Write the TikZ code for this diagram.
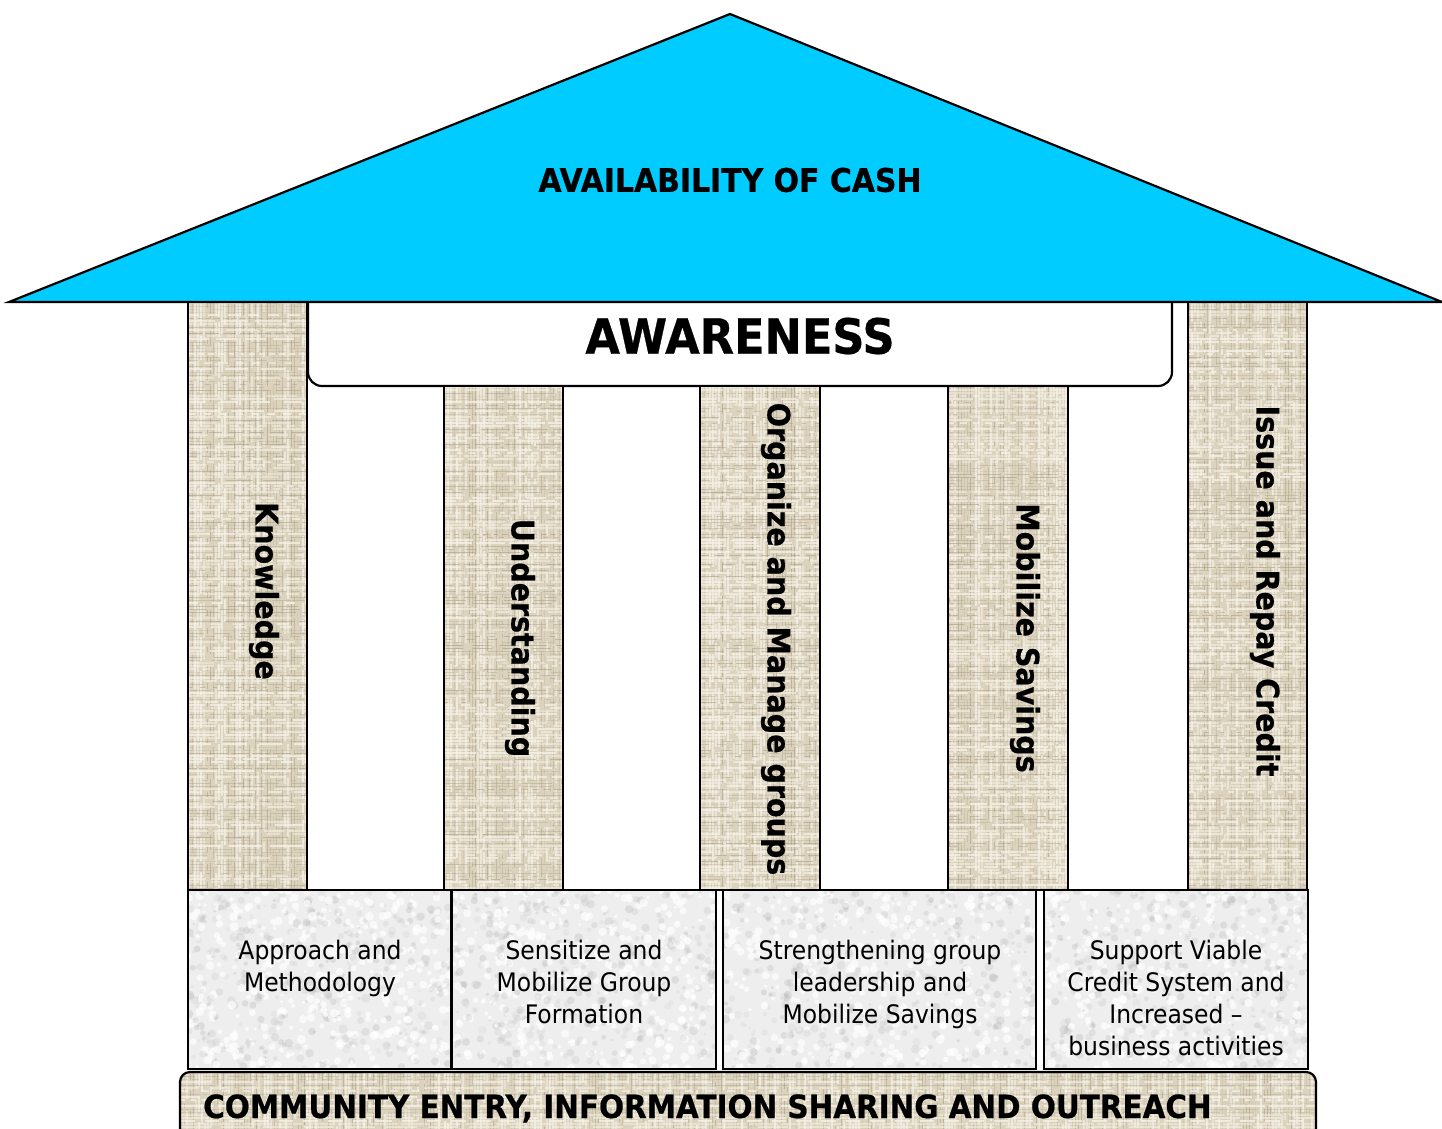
\documentclass[tikz,border=0pt]{standalone}
\usepackage{fontspec}
\setmainfont{DejaVu Sans}[FakeStretch=0.92, BoldFeatures={FakeBold=0.6}]
\usetikzlibrary{calc}

\definecolor{roofblue}{HTML}{00CCFF}
\definecolor{linenbase}{HTML}{DCD3BE}
\definecolor{linendark}{HTML}{9E927A}
\definecolor{linenlight}{HTML}{F6F2E8}
\definecolor{stonebase}{HTML}{EEEEEE}

\tikzset{
  outline/.style={draw=black, line width=2.2pt},
  titletext/.style={font=\bfseries\fontsize{32.5}{36}\selectfont},
  pillartext/.style={font=\bfseries\fontsize{31}{36}\selectfont, rotate=-90, inner sep=0pt},
  basetext/.style={font=\fontsize{25.5}{32}\selectfont, align=center, anchor=north, inner sep=0pt},
}

% woven linen texture inside a rectangle
\newcommand\linenfill[4]{%
  \begin{scope}
    \clip (#1,#2) rectangle (#3,#4);
    \fill[linenbase] (#1,#2) rectangle (#3,#4);
    \pgfmathtruncatemacro\nx{(#3-#1)/3}
    \pgfmathtruncatemacro\ny{(#4-#2)/3}
    \foreach \k in {0,...,\nx}{
      \pgfmathsetmacro\xx{#1+3*\k+1}
      \pgfmathsetmacro\op{0.12+0.38*rnd}
      \pgfmathsetmacro\da{4+30*rnd}
      \pgfmathsetmacro\db{2+12*rnd}
      \pgfmathsetmacro\col{rnd>0.5 ? 1 : 0}
      \ifdim\col pt>0.5pt
        \draw[linenlight, line width=1.1pt, opacity=\op+0.3, dash pattern=on \da pt off \db pt] (\xx,#2) -- (\xx,#4);
      \else
        \draw[linendark, line width=0.8pt, opacity=\op, dash pattern=on \da pt off \db pt] (\xx,#2) -- (\xx,#4);
      \fi
    }
    \foreach \k in {0,...,\ny}{
      \pgfmathsetmacro\yy{#2+3*\k+1}
      \pgfmathsetmacro\op{0.12+0.38*rnd}
      \pgfmathsetmacro\da{4+30*rnd}
      \pgfmathsetmacro\db{2+12*rnd}
      \pgfmathsetmacro\col{rnd>0.5 ? 1 : 0}
      \ifdim\col pt>0.5pt
        \draw[linenlight, line width=1.1pt, opacity=\op+0.3, dash pattern=on \da pt off \db pt] (#1,\yy) -- (#3,\yy);
      \else
        \draw[linendark, line width=0.8pt, opacity=\op, dash pattern=on \da pt off \db pt] (#1,\yy) -- (#3,\yy);
      \fi
    }
  \end{scope}}

% mottled stone texture inside a rectangle
\newcommand\stonefill[4]{%
  \begin{scope}
    \clip (#1,#2) rectangle (#3,#4);
    \fill[stonebase] (#1,#2) rectangle (#3,#4);
    \foreach \k in {1,...,380}{
      \pgfmathsetmacro\px{#1+(#3-#1)*rnd}
      \pgfmathsetmacro\py{#2+(#4-#2)*rnd}
      \pgfmathsetmacro\rr{1.5+3*rnd}
      \pgfmathsetmacro\op{0.08+0.18*rnd}
      \fill[gray!70, opacity=\op] (\px,\py) circle (\rr pt);
      \pgfmathsetmacro\qx{#1+(#3-#1)*rnd}
      \pgfmathsetmacro\qy{#2+(#4-#2)*rnd}
      \fill[white, opacity=0.7] (\qx,\qy) circle (\rr pt);
    }
  \end{scope}}

\begin{document}
\begin{tikzpicture}[x=1pt, y=-1pt]
  \pgfmathsetseed{4217}
  \useasboundingbox (0,0) rectangle (1442,1128);
  \clip (0,0) rectangle (1442,1128);

  % awareness beam under the roof
  \draw[outline, fill=white, rounded corners=14pt]
    (308,290) -- (308,386) -- (1172,386) -- (1172,290);

  % pillars
  \linenfill{188}{302}{307}{890}
  \draw[outline] (188,302) rectangle (307,890);
  \linenfill{444}{386}{563}{890}
  \draw[outline] (444,386) rectangle (563,890);
  \linenfill{700}{386}{820}{890}
  \draw[outline] (700,386) rectangle (820,890);
  \linenfill{948}{386}{1068}{890}
  \draw[outline] (948,386) rectangle (1068,890);
  \linenfill{1188}{302}{1307}{890}
  \draw[outline] (1188,302) rectangle (1307,890);

  % foundation blocks
  \stonefill{188}{890}{451}{1069}
  \draw[outline] (188,890) rectangle (451,1069);
  \stonefill{452}{890}{716}{1069}
  \draw[outline] (452,890) rectangle (716,1069);
  \stonefill{723}{890}{1036}{1069}
  \draw[outline] (723,890) rectangle (1036,1069);
  \stonefill{1044}{890}{1308}{1069}
  \draw[outline] (1044,890) rectangle (1308,1069);

  % ground slab
  \begin{scope}
    \clip[rounded corners=10pt] (180,1072) rectangle (1316,1150);
    \linenfill{180}{1072}{1316}{1150}
  \end{scope}
  \draw[outline, rounded corners=10pt] (180,1150) -- (180,1072) -- (1316,1072) -- (1316,1150);

  % roof
  \draw[outline, fill=roofblue, line join=miter] (9,302) -- (730,14) -- (1442,302) -- cycle;

  % texts
  \node[titletext] (cash) at (730,180) {AVAILABILITY OF CASH};
  \node[font=\bfseries\fontsize{48.5}{52}\selectfont] (awareness) at (740,336) {AWARENESS};

  \node[pillartext] (knowledge) at (264,591) {Knowledge};
  \node[pillartext] (understanding) at (520,638) {Understanding};
  \node[pillartext] (organize) at (776,639) {Organize and Manage groups};
  \node[pillartext] (savings) at (1025,638) {Mobilize Savings};
  \node[pillartext] (credit) at (1265,591) {Issue and Repay Credit};

  \node[basetext] (approach) at (320,940) {Approach and\\Methodology};
  \node[basetext] (sensitize) at (584,940) {Sensitize and\\Mobilize Group\\Formation};
  \node[basetext] (strengthen) at (880,940) {Strengthening group\\leadership and\\Mobilize Savings};
  \node[basetext] (support) at (1176,940) {Support Viable\\Credit System and\\Increased --\\business activities};

  \node[font=\bfseries\fontsize{32}{36}\selectfont, anchor=base west, inner sep=0pt]
    (community) at (203,1118) {COMMUNITY ENTRY, INFORMATION SHARING AND OUTREACH};
\end{tikzpicture}
\end{document}
